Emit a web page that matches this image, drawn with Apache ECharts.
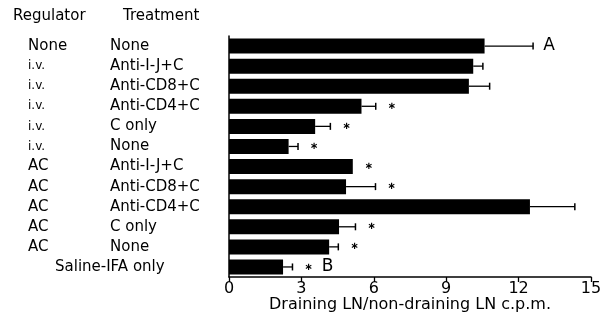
<!DOCTYPE html>
<html><head><meta charset="utf-8">
<script src="https://cdn.jsdelivr.net/npm/echarts@6/dist/echarts.min.js"></script>
<style>html,body{margin:0;padding:0;background:#fff}#c{width:610px;height:330px}</style>
</head><body><div id="c"></div>
<script>
const regulators = ['None','i.v.','i.v.','i.v.','i.v.','i.v.','AC','AC','AC','AC','AC',''];
const treatments = ['None','Anti-I-J+C','Anti-CD8+C','Anti-CD4+C','C only','None','Anti-I-J+C','Anti-CD8+C','Anti-CD4+C','C only','None','Saline-IFA only'];
const values = [10.59, 10.12, 9.94, 5.49, 3.57, 2.47, 5.13, 4.85, 12.47, 4.56, 4.15, 2.24];
const errorUpper = [12.6, 10.52, 10.8, 6.08, 4.2, 2.86, 5.13, 6.07, 14.33, 5.24, 4.53, 2.63];
const stars = ['', '', '', '*', '*', '*', '*', '*', '', '*', '*', '*'];
const letters = ['A', '', '', '', '', '', '', '', '', '', '', 'B'];
const xTicks = [0, 3, 6, 9, 12, 15];

const FONT = 'DejaVu Sans';
const cats = treatments.map((t, i) => String(i));
const chart = echarts.init(document.getElementById('c'));
chart.setOption({
  animation: false,
  textStyle: { fontFamily: FONT, color: '#000' },
  grid: { left: 229, right: 19, top: 36, bottom: 53 },
  xAxis: {
    type: 'value', min: xTicks[0], max: xTicks[xTicks.length - 1], interval: 3,
    splitLine: { show: false },
    axisLine: { show: true, lineStyle: { color: '#000', width: 1.5 } },
    axisTick: { show: true, length: 5, lineStyle: { color: '#000', width: 1.3 } },
    axisLabel: { fontSize: 16, color: '#000', margin: 4, fontFamily: FONT },
    name: 'Draining LN/non-draining LN c.p.m.', nameLocation: 'middle', nameGap: 20,
    nameMoveOverlap: false,
    nameTextStyle: { fontSize: 16, color: '#000', fontFamily: FONT }
  },
  yAxis: {
    type: 'category', data: cats, inverse: true,
    axisLine: { show: true, lineStyle: { color: '#000', width: 1.5 } },
    axisTick: { show: false },
    axisLabel: {
      align: 'left', margin: 201, fontFamily: FONT,
      formatter: function (v, i) {
        const idx = Number(v);
        if (!regulators[idx]) return '{s|' + treatments[idx] + '}';
        const rs = regulators[idx] === 'i.v.' ? 'rs' : 'r';
        return '{' + rs + '|' + regulators[idx] + '}{t|' + treatments[idx] + '}';
      },
      rich: {
        r: { width: 82, fontSize: 15, color: '#000', fontFamily: FONT },
        rs: { width: 82, fontSize: 12, color: '#000', fontFamily: FONT },
        t: { fontSize: 15, color: '#000', fontFamily: FONT },
        s: { fontSize: 15, color: '#000', fontFamily: FONT, padding: [0, 0, 0, 27] }
      }
    }
  },
  graphic: [
    { type: 'text', left: 13, top: 9, style: { text: 'Regulator', font: '15px "DejaVu Sans"', fill: '#000' } },
    { type: 'text', left: 123, top: 9, style: { text: 'Treatment', font: '15px "DejaVu Sans"', fill: '#000' } }
  ],
  series: [
    {
      type: 'bar', data: values, barWidth: 15,
      itemStyle: { color: '#000' }
    },
    {
      type: 'custom',
      data: values.map((v, i) => [v, i, errorUpper[i]]),
      encode: { x: [0, 2], y: 1 },
      renderItem: function (params, api) {
        const i = api.value(1);
        const p0 = api.coord([api.value(0), i]);
        const p1 = api.coord([api.value(2), i]);
        const children = [];
        if (p1[0] - p0[0] > 1) {
          children.push({ type: 'line', shape: { x1: p0[0], y1: p0[1], x2: p1[0], y2: p1[1] }, style: { stroke: '#000', lineWidth: 1.3 } });
          children.push({ type: 'line', shape: { x1: p1[0], y1: p1[1] - 3.5, x2: p1[0], y2: p1[1] + 3.5 }, style: { stroke: '#000', lineWidth: 1.5 } });
        }
        let off = 16;
        if (stars[i]) {
          children.push({ type: 'text', style: { x: p1[0] + off, y: p1[1], text: '\u2217', font: 'bold 10px "DejaVu Sans"', fill: '#000', align: 'center', verticalAlign: 'middle' } });
          off = 35;
        }
        if (letters[i]) {
          children.push({ type: 'text', style: { x: p1[0] + off, y: p1[1], text: letters[i], font: '17px "DejaVu Sans"', fill: '#000', align: 'center', verticalAlign: 'middle' } });
        }
        return { type: 'group', children: children };
      },
      z: 3
    }
  ]
});
</script></body></html>
